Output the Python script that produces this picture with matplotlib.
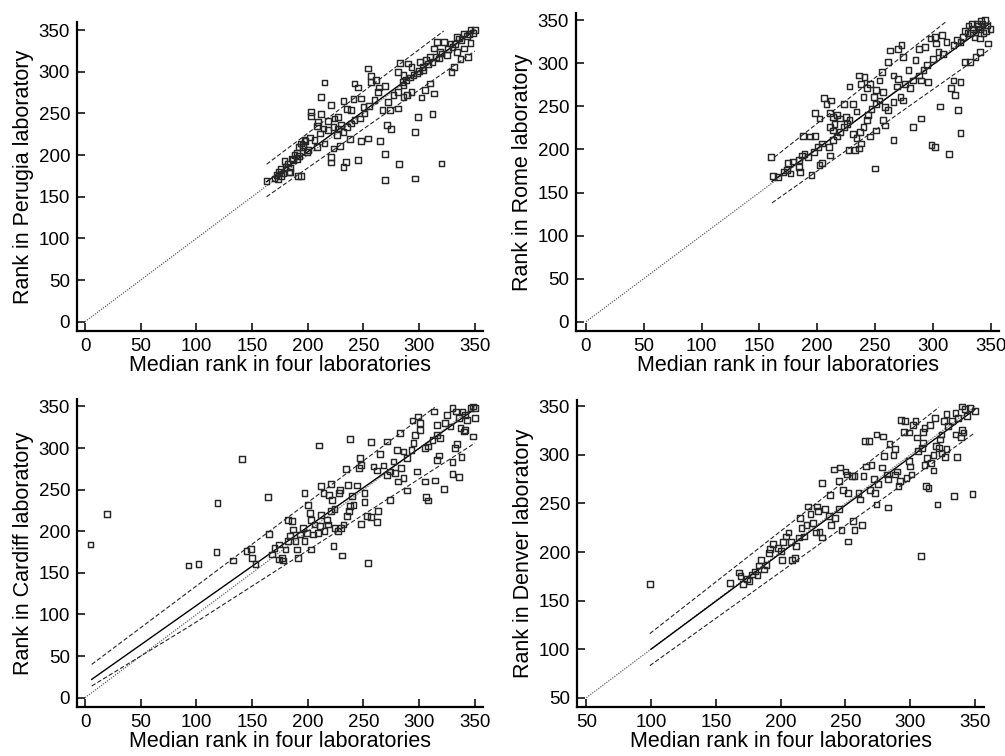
import numpy as np
import matplotlib
matplotlib.use("Agg")
import matplotlib.pyplot as plt

plt.rcParams['font.family'] = ['Liberation Sans', 'DejaVu Sans']

# ranks: (median rank in four labs, rank in one lab)
perugia = [(163,169),(170,172),(172,176),(174,180),(176,183),(178,178),(180,186),(182,190),(184,185),
           (186,196),(188,200),(190,203),(192,199),(176,175),(173,171),(179,193),(183,179),(184,180),
           (191,175),(194,175),(187,194),(190,195),(196,212),(198,217),(200,206),(194,214),(192,210),
           (203,252),(203,247),(212,249),(209,240),(208,235),(215,287),(212,270),(221,260),(232,265),
           (239,254),(241,267),(242,286),(245,281),(248,268),(235,255),(227,246),(224,244),(218,241),
           (223,208),(221,198),(221,191),(232,186),(234,192),(245,194),(248,217),(254,220),(229,211),
           (238,219),(265,217),(269,201),(269,170),(271,236),(275,231),(282,189),(296,172),(296,228),
           (299,246),(302,269),(312,249),(313,274),(310,286),(320,190),(305,278),(283,311),(290,310),
           (293,306),(301,312),(306,314),(316,336),(322,336),(328,334),(334,342),(340,346),(346,350),
           (350,350),(346,335),(344,318),(337,315),(331,306),(329,300),(325,320),(319,324),(313,328),
           (334,324),(340,328),(310,318),(304,302),(298,298),(292,293),(286,284),(281,276),(277,272),
           (272,264),(274,254),(281,256),(286,270),(289,272),(293,276),(281,300),(286,296),(267,254),
           (269,283),(263,276),(260,266),(255,259),(250,258),(254,304),(257,295),(257,288),(261,290),
           (264,281),(202,221),(206,218),(211,226),(214,232),(218,230),(223,234),(227,232),(230,236),
           (235,234),(239,238),(242,242),(247,244),(251,250),(232,228),(226,224),(208,210),(215,214),
           (196,210),(197,218),(199,204),(338,338),(343,343),(330,330),(318,316),(308,309),(300,301),
           (285,288),(288,290),(295,296),(303,306),(312,312),(315,318),(320,322),(326,327),(332,333),
           (336,340),(345,345),(348,347)]

rome = [(160,191),(162,169),(166,168),(171,174),(174,176),(175,184),(179,186),(177,172),(184,188),
        (187,193),(185,174),(184,180),(192,191),(195,170),(197,197),(201,203),(204,207),(204,184),
        (202,182),(210,203),(211,193),(214,211),(189,195),(198,216),(188,216),(194,215),(198,242),
        (202,236),(206,260),(208,253),(212,257),(211,242),(214,238),(217,240),(223,253),(228,273),
        (231,253),(234,244),(236,286),(238,276),(241,284),(243,271),(240,261),(246,276),(249,261),
        (251,269),(254,280),(256,290),(257,267),(261,302),(263,315),(270,317),(273,321),(274,307),
        (266,286),(270,282),(269,273),(276,276),(279,292),(285,304),(288,317),(293,319),(298,329),
        (302,331),(308,333),(312,325),(303,323),(309,311),(305,313),(300,305),(295,298),(292,292),
        (288,286),(283,280),(280,271),(290,280),(296,278),(217,215),(220,220),(223,226),(226,230),
        (228,234),(231,218),(234,213),(237,220),(240,226),(243,234),(244,240),(247,247),(251,253),
        (254,257),(259,249),(261,246),(266,255),(272,261),(274,257),(214,222),(211,226),(215,230),
        (220,236),(225,238),(227,199),(233,199),(236,201),(238,207),(246,215),(250,178),(251,222),
        (257,234),(259,228),(266,211),(283,226),(290,236),(299,205),(302,203),(306,250),(314,195),
        (316,271),(319,263),(322,246),(324,278),(324,219),(318,280),(328,302),(332,302),(341,313),
        (337,307),(348,323),(328,338),(331,344),(334,346),(338,346),(342,349),(345,350),(347,344),
        (350,340),(341,340),(337,336),(332,335),(326,331),(324,325),(341,329),(344,335),(318,321),
        (321,327),(330,335),(335,340),(339,343),(343,346),(336,330),(346,338)]

cardiff = [(5,184),(20,221),(141,287),(119,234),(164,241),(93,159),(102,161),(118,175),(133,165),
           (145,176),(149,179),(150,168),(153,161),(165,197),(210,303),(238,311),(257,307),(265,293),
           (271,308),(223,182),(231,171),(254,162),(263,224),(262,211),(257,217),(253,218),(274,238),
           (289,249),(298,272),(305,260),(306,241),(308,237),(314,261),(322,251),(330,269),(336,265),
           (338,289),(330,283),(318,291),(316,286),(332,300),(334,305),(340,320),(348,314),(350,336),
           (212,254),(221,257),(214,246),(219,244),(222,238),(224,227),(228,246),(229,250),(234,275),
           (236,256),(238,230),(240,242),(241,232),(244,255),(246,276),(247,288),(248,280),(251,246),
           (251,235),(259,278),(262,273),(268,279),(271,268),(274,272),(277,284),(278,270),(281,260),
           (284,276),(286,264),(280,298),(283,318),(286,296),(289,288),(293,298),(295,306),(296,316),
           (294,333),(299,338),(301,330),(301,322),(305,300),(308,302),(312,310),(313,344),(316,328),
           (316,316),(319,312),(323,330),(325,340),(328,326),(330,348),(333,344),(336,336),(339,344),
           (341,340),(343,334),(346,348),(348,350),(350,348),(341,322),(337,324),(168,172),(170,180),
           (174,166),(174,184),(177,168),(178,165),(180,178),(182,188),(184,194),(182,214),(186,212),
           (187,202),(189,188),(190,178),(191,168),(193,196),(196,204),(197,246),(197,188),(199,198),
           (200,232),(202,222),(203,214),(205,196),(206,208),(203,178),(209,198),(211,206),(212,220),
           (215,200),(217,214),(218,208),(221,224),(224,204),(227,200),(230,204),(232,208),(235,218),
           (237,224),(248,209)]

denver = [(99,167),(308,196),(348,260),(334,258),(321,249),(314,266),(312,268),(283,246),(252,211),
          (327,298),(318,284),(316,292),(336,298),(161,168),(168,179),(169,175),(171,167),(174,172),
          (176,170),(178,177),(180,180),(182,176),(183,186),(185,192),(187,182),(189,187),(191,199),
          (192,203),(194,208),(198,204),(200,201),(201,192),(202,210),(204,216),(206,220),(208,210),
          (209,192),(211,194),(212,206),(214,215),(215,235),(216,225),(218,216),(220,228),(221,247),
          (223,239),(225,230),(227,220),(228,247),(229,242),(230,221),(232,215),(232,271),(234,244),
          (237,237),(238,259),(239,228),(241,285),(242,235),(245,244),(245,273),(246,287),(247,223),
          (248,264),(250,283),(251,280),(252,261),(255,278),(257,278),(256,232),(257,223),(260,261),
          (261,254),(263,228),(264,278),(265,314),(268,314),(266,288),(269,264),(270,290),(272,275),
          (273,261),(274,249),(275,270),(274,321),(278,287),(279,319),(280,299),(282,280),(283,275),
          (284,311),(287,300),(288,306),(288,280),(290,283),(291,268),(292,273),(293,336),(295,324),
          (296,335),(299,294),(300,288),(299,323),(302,331),(304,335),(305,318),(306,304),(309,307),
          (310,312),(311,328),(311,290),(313,297),(310,324),(315,331),(319,338),(320,309),(323,316),
          (324,321),(326,335),(328,342),(329,330),(332,335),(335,343),(337,338),(340,350),(342,347),
          (344,340),(346,348),(350,345),(340,326),(341,323),(339,318),(335,321),(328,306),(324,302),
          (322,307),(318,300),(297,276),(301,280)]

# fitted line and the two dashed limits, read at their end points
perugia_fit = ([163, 350], [168, 350])
perugia_up = ([163, 322], [189, 349])
perugia_lo = ([163, 350], [150, 325])
rome_fit = ([161, 350], [163, 347])
rome_up = ([163, 312], [191, 349])
rome_lo = ([161, 350], [138, 317])
cardiff_fit = ([6, 349], [22, 346])
cardiff_up = ([6, 314], [40, 349])
cardiff_lo = ([6, 94, 350], [14, 86, 306])
denver_fit = ([100, 350], [100, 347])
denver_up = ([99, 322], [116, 349])
denver_lo = ([99, 350], [83, 323])

labs = ['Perugia', 'Rome', 'Cardiff', 'Denver']
points = [perugia, rome, cardiff, denver]
fits = [perugia_fit, rome_fit, cardiff_fit, denver_fit]
ups = [perugia_up, rome_up, cardiff_up, denver_up]
los = [perugia_lo, rome_lo, cardiff_lo, denver_lo]
ticks = [np.arange(0, 351, 50)] * 3 + [np.arange(50, 351, 50)]

# axes boxes in pixels: left, right, top, bottom
W, H = 1005, 756
boxes = [(77, 483, 22, 331), (576, 999, 13, 331), (77, 483, 399, 707), (577, 984, 400, 707)]
xlims = [(-7.2, 357.3), (-8.6, 357.3), (-7.2, 357.3), (42.8, 356.9)]
ylims = [(-11.2, 359.8), (-10.8, 358.5), (-11.2, 359), (40.4, 356.6)]

fig = plt.figure(figsize=(W / 100, H / 100), dpi=100)

for i in range(4):
    l, r, t, b = boxes[i]
    ax = fig.add_axes([l / W, 1 - b / H, (r - l) / W, (b - t) / H])
    lo_end = ticks[i][0]
    ax.plot([lo_end, 350], [lo_end, 350], ls=(0, (1, 1)), color='0.4', lw=0.9)
    ax.plot(fits[i][0], fits[i][1], '-', color='k', lw=1.0)
    ax.plot(ups[i][0], ups[i][1], ls=(0, (4, 2)), color='0.15', lw=0.8)
    ax.plot(los[i][0], los[i][1], ls=(0, (4, 2)), color='0.15', lw=0.8)
    p = np.array(points[i])
    ax.scatter(p[:, 0], p[:, 1], marker='s', s=17, facecolors='none',
               edgecolors='0.15', linewidths=1.05, zorder=3)

    ax.set_xlim(xlims[i])
    ax.set_ylim(ylims[i])
    ax.set_xticks(ticks[i])
    ax.set_yticks(ticks[i])
    for s in ['top', 'right']:
        ax.spines[s].set_visible(False)
    for s in ['left', 'bottom']:
        ax.spines[s].set_linewidth(1.6)
    ax.tick_params(direction='in', length=6, width=1.1, labelsize=13.5, pad=5)
    ax.set_xlabel('Median rank in four laboratories', fontsize=15.5, labelpad=0)
    ax.set_ylabel('Rank in ' + labs[i] + ' laboratory', fontsize=15.5, labelpad=3)

fig.savefig('out.png', dpi=100)
